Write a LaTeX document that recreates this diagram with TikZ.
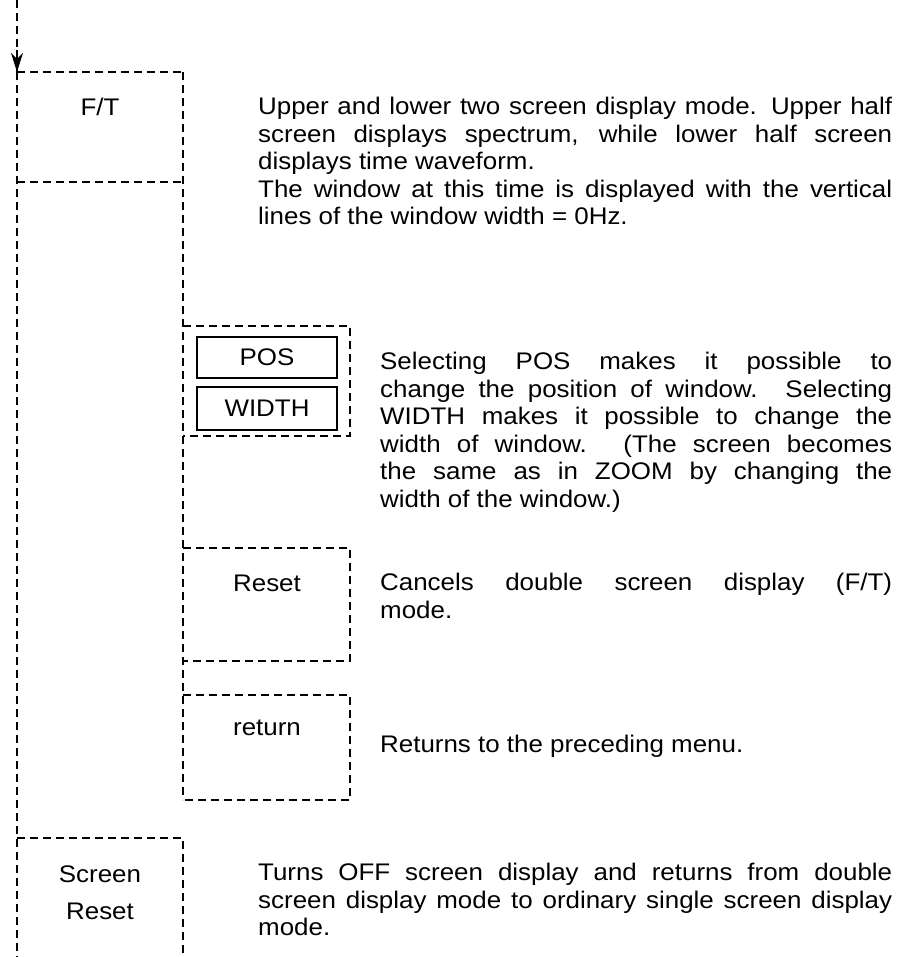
\documentclass[tikz,border=0pt]{standalone}
\usepackage{fontspec}
\setmainfont{Liberation Sans}[FakeStretch=1.08]
\usetikzlibrary{arrows.meta,calc}
\begin{document}
\begin{tikzpicture}[x=1pt,y=-1pt,
  dline/.style={dash pattern=on 8pt off 5pt, line width=1.5pt},
  txt/.style={font=\fontsize{24}{27.5}\selectfont, inner sep=0pt},
  desc/.style={txt, anchor=north west, align=justify},
  keybox/.style={draw, line width=1.5pt, minimum width=140pt, inner sep=0pt, font=\fontsize{24}{27}\selectfont}]
\useasboundingbox (0,0) rectangle (914,957);
% coordinates
\coordinate (top) at (17,0);
\coordinate (bot) at (17,957);
\coordinate (ftNW) at (17,72);
\coordinate (arrStart) at (17,50);
\coordinate (ftNE) at (183,72);
\coordinate (ftSW) at (17,182);
\coordinate (ftSE) at (183,182);
\coordinate (spineEnd) at (183,800);
\coordinate (pgNW) at (183,326);
\coordinate (pgNE) at (350,326);
\coordinate (pgSE) at (350,436);
\coordinate (pgSW) at (183,436);
\coordinate (rsNW) at (183,548);
\coordinate (rsNE) at (350,548);
\coordinate (rsSE) at (350,661);
\coordinate (rsSW) at (183,661);
\coordinate (rtNW) at (183,695);
\coordinate (rtNE) at (350,695);
\coordinate (rtSE) at (350,800);
\coordinate (rtSW) at (183,800);
\coordinate (srNW) at (17,838);
\coordinate (srNE) at (183,838);
\coordinate (srSE) at (183,957);
% lines
\draw[dline] (top) -- (arrStart);
\draw[line width=1.5pt] (arrStart) -- (ftNW);
\fill (ftNW) -- ++(-6,-19) -- ++(6,6) -- ++(6,-6) -- cycle;
\draw[dline] (ftNW) -- (bot);
\draw[dline] (ftNW) -- (ftNE);
\draw[dline] (ftSW) -- (ftSE);
\draw[dline] (ftNE) -- (spineEnd);
\draw[dline] (pgNW) -- (pgNE) -- (pgSE) -- (pgSW);
\draw[dline] (rsNW) -- (rsNE) -- (rsSE) -- (rsSW);
\draw[dline] (rtNW) -- (rtNE) -- (rtSE) -- (rtSW);
\draw[dline] (srNW) -- (srNE) -- (srSE);
% labels
\node[txt] (ft) at (100,107) {F/T};
\node[keybox, minimum height=41pt] (pos) at (267,357.5) {POS};
\node[keybox, minimum height=43pt] (wid) at (267,408.5) {WIDTH};
\node[txt] (reset) at (267,583) {Reset};
\node[txt] (ret) at (267,728) {return};
\node[txt] (scr) at (100,874) {Screen};
\node[txt] (scrreset) at (100,911) {Reset};
% descriptions
\node[desc, text width=634pt] (d1) at (258,97) {Upper and lower two screen display mode. Upper half\linebreak
screen displays spectrum, while lower half screen\linebreak
displays time waveform.\par
The window at this time is displayed with the vertical\linebreak
lines of the window width = 0Hz.};
\node[desc, text width=512pt] (d2) at (380,352) {Selecting POS makes it possible to\linebreak
change the position of window. Selecting\linebreak
WIDTH makes it possible to change the\linebreak
width of window. (The screen becomes\linebreak
the same as in ZOOM by changing the\linebreak
width of the window.)};
\node[desc, text width=512pt] (d3) at (380,573) {Cancels double screen display (F/T)\linebreak
mode.};
\node[desc, text width=512pt] (d4) at (380,735) {Returns to the preceding menu.};
\node[desc, text width=634pt] (d5) at (258,863) {Turns OFF screen display and returns from double\linebreak
screen display mode to ordinary single screen display\linebreak
mode.};
\end{tikzpicture}
\end{document}
